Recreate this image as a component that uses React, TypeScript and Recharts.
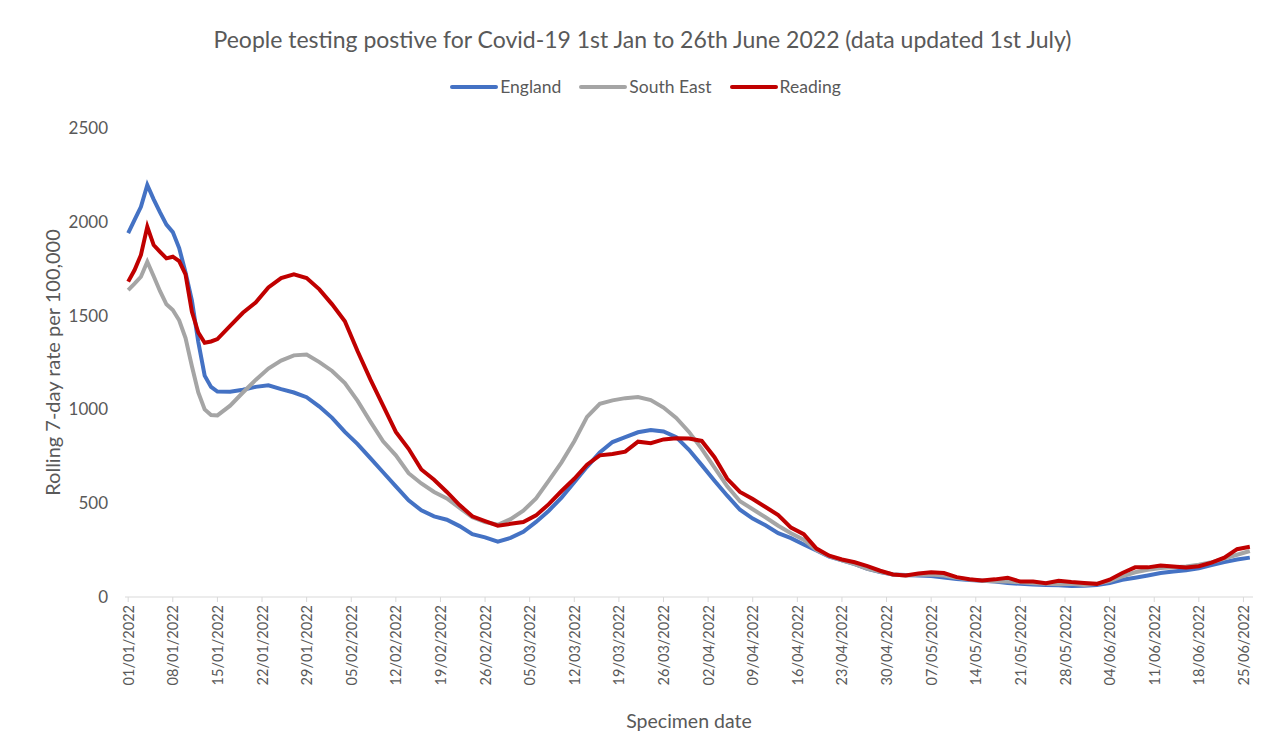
import React from 'react';
import { LineChart, Line, XAxis, YAxis } from 'recharts';

// day index counted from 01/01/2022
const days = [
  0, 1, 2, 3, 4, 5, 6, 7, 8, 9, 10, 11, 12, 13, 14, 16, 18, 20, 22, 24, 26, 28, 30, 32, 34, 36, 38, 40,
  42, 44, 46, 48, 50, 52, 54, 56, 58, 60, 62, 64, 66, 68, 70, 72, 74, 76, 78, 80, 82, 84, 86, 88, 90,
  92, 94, 96, 98, 100, 102, 104, 106, 108, 110, 112, 114, 116, 118, 120, 122, 124, 126, 128, 130, 132,
  134, 136, 138, 140, 142, 144, 146, 148, 150, 152, 154, 156, 158, 160, 162, 164, 166, 168, 170, 172,
  174, 176,
];

const england = [
  1940, 2010, 2080, 2196, 2120, 2050, 1985, 1945, 1860, 1730, 1580, 1360, 1180, 1120, 1095, 1094, 1105,
  1120, 1128, 1108, 1090, 1065, 1015, 955, 880, 815, 740, 665, 590, 515, 462, 430, 412, 378, 335, 318,
  295, 315, 348, 400, 460, 530, 612, 694, 770, 826, 852, 878, 890, 882, 852, 785, 703, 620, 540, 465,
  418, 382, 340, 314, 280, 248, 215, 195, 175, 150, 133, 120, 117, 115, 112, 104, 96, 91, 87, 82, 74,
  70, 66, 64, 62, 59, 60, 64, 75, 92, 103, 115, 128, 136, 143, 153, 170, 186, 200, 210,
];

const southEast = [
  1636, 1670, 1707, 1787, 1710, 1630, 1560, 1530, 1475, 1380, 1230, 1090, 1000, 970, 968, 1020, 1090,
  1157, 1218, 1260, 1288, 1292, 1252, 1205, 1140, 1045, 935, 830, 755, 660, 605, 560, 525, 475, 425,
  400, 385, 415, 460, 525, 620, 718, 830, 960, 1030, 1048, 1060, 1066, 1050, 1010, 955, 880, 790, 690,
  590, 510, 468, 425, 380, 340, 305, 250, 218, 195, 175, 150, 135, 120, 115, 118, 120, 115, 102, 93,
  86, 84, 82, 78, 73, 70, 68, 70, 64, 70, 85, 110, 132, 145, 155, 158, 163, 172, 185, 205, 225, 245,
];

const reading = [
  1681, 1743, 1823, 1974, 1876, 1840, 1805, 1814, 1790, 1720, 1520, 1410, 1355, 1362, 1375, 1445, 1515,
  1570, 1650, 1700, 1720, 1700, 1640, 1560, 1470, 1310, 1160, 1020, 880, 790, 680, 625, 560, 490, 430,
  405, 380, 390, 400, 435, 495, 565, 630, 705, 755, 762, 775, 828, 820, 840, 846, 845, 832, 745, 630,
  560, 522, 480, 437, 370, 335, 258, 220, 200, 185, 165, 140, 120, 115, 125, 132, 128, 106, 95, 88, 94,
  103, 82, 82, 74, 87, 80, 75, 70, 92, 128, 158, 158, 168, 163, 157, 164, 183, 210, 255, 268,
];

const tickDays = [
  0, 7, 14, 21, 28, 35, 42, 49, 56, 63, 70, 77, 84, 91, 98, 105, 112, 119, 126, 133, 140, 147, 154,
  161, 168, 175,
];
const tickLabels = [
  '01/01/2022', '08/01/2022', '15/01/2022', '22/01/2022', '29/01/2022', '05/02/2022', '12/02/2022',
  '19/02/2022', '26/02/2022', '05/03/2022', '12/03/2022', '19/03/2022', '26/03/2022', '02/04/2022',
  '09/04/2022', '16/04/2022', '23/04/2022', '30/04/2022', '07/05/2022', '14/05/2022', '21/05/2022',
  '28/05/2022', '04/06/2022', '11/06/2022', '18/06/2022', '25/06/2022',
];
const yTicks = [0, 500, 1000, 1500, 2000, 2500];

const data = days.map((d, i) => ({
  day: d,
  England: england[i],
  'South East': southEast[i],
  Reading: reading[i],
}));

const FONT = 'Lato, "Open Sans", sans-serif';
const TEXT = '#595959';

const series = [
  { key: 'England', color: '#4472C4' },
  { key: 'South East', color: '#A5A5A5' },
  { key: 'Reading', color: '#C00000' },
];

const DateTick = (props: any) => {
  const { x, y, payload } = props;
  const idx = tickDays.indexOf(payload.value);
  return (
    <text
      x={x}
      y={y}
      transform={`rotate(-90, ${x}, ${y})`}
      textAnchor="end"
      dominantBaseline="central"
      fill={TEXT}
      fontSize={14.5}
      fontFamily={FONT}
    >
      {idx >= 0 ? tickLabels[idx] : ''}
    </text>
  );
};

export default function App() {
  return (
    <div style={{ position: 'absolute', left: 0, top: 0, width: 1262, height: 756, background: '#fff' }}>
      <div
        style={{
          position: 'absolute',
          top: 25,
          left: 0,
          width: 1285,
          textAlign: 'center',
          fontFamily: FONT,
          fontSize: 23,
          color: TEXT,
          whiteSpace: 'nowrap',
        }}
      >
        People testing postive for Covid-19 1st Jan to 26th June 2022 (data updated 1st July)
      </div>
      <div
        style={{
          position: 'absolute',
          top: 76,
          left: 0,
          width: 1291,
          display: 'flex',
          justifyContent: 'center',
          fontFamily: FONT,
          fontSize: 17.5,
          color: TEXT,
          zIndex: 1,
        }}
      >
        {series.map((s, i) => (
          <div
            key={s.key}
            style={{ display: 'flex', alignItems: 'center', marginLeft: i === 0 ? 0 : 18 }}
          >
            <div style={{ width: 48, height: 4, borderRadius: 2, background: s.color, marginRight: 2 }} />
            <span>{s.key}</span>
          </div>
        ))}
      </div>
      <LineChart
        width={1262}
        height={756}
        data={data}
        margin={{ top: 128, right: 9, left: 65, bottom: 24 }}
      >
        <XAxis
          dataKey="day"
          type="number"
          domain={[-0.5, 176.5]}
          ticks={tickDays}
          interval={0}
          tick={<DateTick />}
          tickSize={5}
          tickMargin={3}
          stroke="#D9D9D9"
          height={135}
          label={{
            value: 'Specimen date',
            position: 'insideBottom',
            offset: 4,
            fill: TEXT,
            fontSize: 19.5,
            fontFamily: FONT,
          }}
        />
        <YAxis
          domain={[0, 2500]}
          ticks={yTicks}
          axisLine={false}
          tickLine={false}
          width={60}
          tickMargin={11}
          tick={{ fill: TEXT, fontSize: 17, fontFamily: FONT }}
          label={{
            value: 'Rolling 7-day rate per 100,000',
            angle: -90,
            position: 'insideLeft',
            offset: -12,
            fill: TEXT,
            fontSize: 20,
            fontFamily: FONT,
            style: { textAnchor: 'middle' },
          }}
        />
        {series.map((s) => (
          <Line
            key={s.key}
            type="linear"
            dataKey={s.key}
            stroke={s.color}
            strokeWidth={4}
            dot={false}
            isAnimationActive={false}
          />
        ))}
      </LineChart>
    </div>
  );
}
